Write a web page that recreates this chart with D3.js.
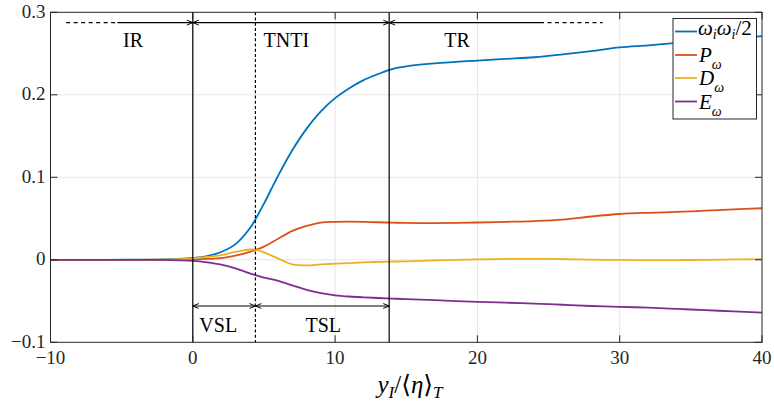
<!DOCTYPE html>
<html><head><meta charset="utf-8">
<script src="https://cdn.jsdelivr.net/npm/d3@7"></script>
<style>html,body{margin:0;padding:0;background:#fff;}svg text{font-family:"Liberation Serif","DejaVu Serif","Times New Roman",serif;}</style>
</head><body>
<svg id="chart" width="774" height="406"></svg>
<script>
const xs = [-10,-6,-4,-2,-1,0,1,2,3,4,4.4,5,6,7,8,9,10,11,12,13,14,15,17,20,22,24,26,28,30,32,34,36,38,40];
const omega = [0,0,0.0001,0.0004,0.001,0.0022,0.0045,0.0095,0.019,0.038,0.049,0.068,0.102,0.133,0.159,0.180,0.196,0.208,0.2178,0.225,0.2312,0.2345,0.238,0.2415,0.2435,0.2455,0.249,0.253,0.2575,0.260,0.263,0.266,0.268,0.271];
const P = [0,0,0,0,0,0.0003,0.001,0.002,0.005,0.0095,0.012,0.016,0.0255,0.035,0.041,0.045,0.046,0.0462,0.046,0.0455,0.045,0.0447,0.0445,0.0452,0.046,0.047,0.0488,0.0525,0.0555,0.057,0.058,0.0595,0.061,0.0625];
const D = [0,0,0,0.0003,0.0008,0.0018,0.0035,0.0058,0.0095,0.0125,0.0123,0.009,0.0015,-0.0055,-0.0068,-0.0055,-0.0047,-0.004,-0.0032,-0.0026,-0.0022,-0.0018,-0.0008,0.0006,0.001,0.0012,0.0008,0.0002,-0.0002,-0.0003,-0.0003,0,0.0004,0.0007];
const E = [0,0,0,-0.0002,-0.0006,-0.0012,-0.003,-0.0058,-0.0105,-0.0165,-0.0186,-0.0215,-0.0255,-0.031,-0.0365,-0.0405,-0.043,-0.0445,-0.0455,-0.0463,-0.047,-0.0477,-0.049,-0.051,-0.052,-0.053,-0.0545,-0.056,-0.057,-0.058,-0.0595,-0.061,-0.0625,-0.064];
const xTicks = [-10,0,10,20,30,40];
const yTicks = [-0.1,0,0.1,0.2,0.3];
const seriesNames = ["omega","P","D","E"];
const colors = ["#0072BD","#D95319","#EDB120","#7E2F8E"];
// region boundaries
const xTNTI = 0, xVSL = 4.4, xTR = 13.8;

const FONT = "'Liberation Serif','DejaVu Serif','Times New Roman',serif";
const svg = d3.select("#chart");
const L = 50.5, R = 762, T = 12.3, B = 342.3;
const x = d3.scaleLinear().domain([-10,40]).range([L,R]);
const y = d3.scaleLinear().domain([-0.1,0.3]).range([B,T]);
const axisColor = "#262626";

// grid
const g = svg.append("g");
g.selectAll(".gx").data(xTicks.slice(1,-1)).enter().append("line")
  .attr("x1",d=>x(d)).attr("x2",d=>x(d)).attr("y1",T).attr("y2",B)
  .attr("stroke","#e6e6e6").attr("stroke-width",1);
g.selectAll(".gy").data(yTicks.slice(1,-1)).enter().append("line")
  .attr("y1",d=>y(d)).attr("y2",d=>y(d)).attr("x1",L).attr("x2",R)
  .attr("stroke","#e6e6e6").attr("stroke-width",1);

// series lines
const all = [omega,P,D,E];
const line = d3.line().x((d,i)=>x(xs[i])).y(d=>y(d)).curve(d3.curveCatmullRom.alpha(0.5));
all.forEach((s,k)=>{
  svg.append("path").datum(s).attr("d",line).attr("fill","none")
    .attr("stroke",colors[k]).attr("stroke-width",1.8);
});

// vertical region lines
svg.append("line").attr("x1",x(xTNTI)).attr("x2",x(xTNTI)).attr("y1",T).attr("y2",B).attr("stroke","#000").attr("stroke-width",1.2);
svg.append("line").attr("x1",x(xTR)).attr("x2",x(xTR)).attr("y1",T).attr("y2",B).attr("stroke","#000").attr("stroke-width",1.2);
svg.append("line").attr("x1",x(xVSL)).attr("x2",x(xVSL)).attr("y1",T).attr("y2",B).attr("stroke","#000").attr("stroke-width",1.2).attr("stroke-dasharray","3,2.2");

// arrow marker
const defs = svg.append("defs");
defs.append("marker").attr("id","arr").attr("viewBox","0 0 10 10").attr("refX",9.5).attr("refY",5)
  .attr("markerWidth",7).attr("markerHeight",7).attr("markerUnits","userSpaceOnUse").attr("orient","auto-start-reverse")
  .append("path").attr("d","M1,1.5 L9.5,5 L1,8.5").attr("fill","none").attr("stroke","#000").attr("stroke-width",1.4);

const yTop = 0.2875, yBot = -0.056;
function seg(x1,x2,yy,opts){
  const l = svg.append("line").attr("x1",x(x1)).attr("x2",x(x2)).attr("y1",y(yy)).attr("y2",y(yy))
    .attr("stroke","#000").attr("stroke-width",1.1);
  if(opts.dash) l.attr("stroke-dasharray","4,3.5");
  if(opts.end) l.attr("marker-end","url(#arr)");
  if(opts.start) l.attr("marker-start","url(#arr)");
}
// IR
seg(-8.9,-5.3,yTop,{dash:true});
seg(-5.3,xTNTI,yTop,{end:true});
// TNTI
seg(xTNTI,xTR,yTop,{start:true,end:true});
// TR
seg(xTR,24.4,yTop,{start:true});
seg(24.4,28.8,yTop,{dash:true});
// VSL, TSL
seg(xTNTI,xVSL,yBot,{start:true,end:true});
seg(xVSL,xTR,yBot,{start:true,end:true});

const regionLabels = [
  {t:"IR",x:-4.2,y:0.2585},{t:"TNTI",x:6.57,y:0.2585},{t:"TR",x:18.57,y:0.2585},
  {t:"VSL",x:1.79,y:-0.0873},{t:"TSL",x:9.17,y:-0.0873}];
svg.selectAll(".rl").data(regionLabels).enter().append("text")
  .attr("x",d=>x(d.x)).attr("y",d=>y(d.y)).attr("text-anchor","middle")
  .attr("font-family",FONT).attr("font-size",20).attr("fill","#000").text(d=>d.t);

// axes box
svg.append("rect").attr("x",L).attr("y",T).attr("width",R-L).attr("height",B-T)
  .attr("fill","none").attr("stroke",axisColor).attr("stroke-width",1);
const tl = 7;
xTicks.forEach(t=>{
  svg.append("line").attr("x1",x(t)).attr("x2",x(t)).attr("y1",B).attr("y2",B-tl).attr("stroke",axisColor);
  svg.append("line").attr("x1",x(t)).attr("x2",x(t)).attr("y1",T).attr("y2",T+tl).attr("stroke",axisColor);
});
yTicks.forEach(t=>{
  svg.append("line").attr("y1",y(t)).attr("y2",y(t)).attr("x1",L).attr("x2",L+tl).attr("stroke",axisColor);
  svg.append("line").attr("y1",y(t)).attr("y2",y(t)).attr("x1",R).attr("x2",R-tl).attr("stroke",axisColor);
});
const fmtX = d=> d<0 ? "\u2212"+Math.abs(d) : String(d);
const fmtY = d=> d===0 ? "0" : (d<0 ? "\u2212"+Math.abs(d).toFixed(1) : d.toFixed(1));
svg.selectAll(".xl").data(xTicks).enter().append("text")
  .attr("x",d=>x(d)).attr("y",B+21.5).attr("text-anchor","middle").attr("font-size",19)
  .attr("font-family",FONT).attr("fill",axisColor).text(fmtX);
svg.selectAll(".yl").data(yTicks).enter().append("text")
  .attr("x",L-5).attr("y",d=>y(d)+5.5).attr("text-anchor","end").attr("font-size",19)
  .attr("font-family",FONT).attr("fill",axisColor).text(fmtY);

// x axis label
const xl = svg.append("text").attr("x",410).attr("y",393).attr("text-anchor","middle")
  .attr("font-family",FONT).attr("font-size",25).attr("fill","#000");
xl.append("tspan").attr("font-style","italic").text("y");
xl.append("tspan").attr("font-style","italic").attr("font-size",17).attr("dy",5).text("I");
xl.append("tspan").attr("dy",-5).text("/\u27E8");
xl.append("tspan").attr("font-style","italic").text("\u03B7");
xl.append("tspan").text("\u27E9");
xl.append("tspan").attr("font-style","italic").attr("font-size",17).attr("dy",5).text("T");

// legend
const lg = svg.append("g");
lg.append("rect").attr("x",673).attr("y",18.5).attr("width",83.5).attr("height",100.5)
  .attr("fill","#fff").attr("stroke",axisColor).attr("stroke-width",1);
const legY = [31.5,55,78,101.5];
seriesNames.forEach((n,k)=>{
  lg.append("line").attr("x1",675).attr("x2",697).attr("y1",legY[k]).attr("y2",legY[k])
    .attr("stroke",colors[k]).attr("stroke-width",1.8);
});
// omega_i omega_i / 2
const t0 = lg.append("text").attr("x",698).attr("y",35).attr("font-family",FONT).attr("font-size",21).attr("fill","#000");
t0.append("tspan").attr("font-style","italic").text("\u03C9");
t0.append("tspan").attr("font-style","italic").attr("font-size",14).attr("dy",4).text("i");
t0.append("tspan").attr("font-style","italic").attr("dy",-4).text("\u03C9");
t0.append("tspan").attr("font-style","italic").attr("font-size",14).attr("dy",4).text("i");
t0.append("tspan").attr("dy",-4).text("/2");
const sub = [{t:"P",y:61.5},{t:"D",y:85},{t:"E",y:109}];
sub.forEach(s=>{
  const tt = lg.append("text").attr("x",699).attr("y",s.y).attr("font-family",FONT).attr("font-size",21).attr("fill","#000");
  tt.append("tspan").attr("font-style","italic").text(s.t);
  tt.append("tspan").attr("font-style","italic").attr("font-size",14).attr("dy",7).text("\u03C9");
});
</script>
</body></html>
